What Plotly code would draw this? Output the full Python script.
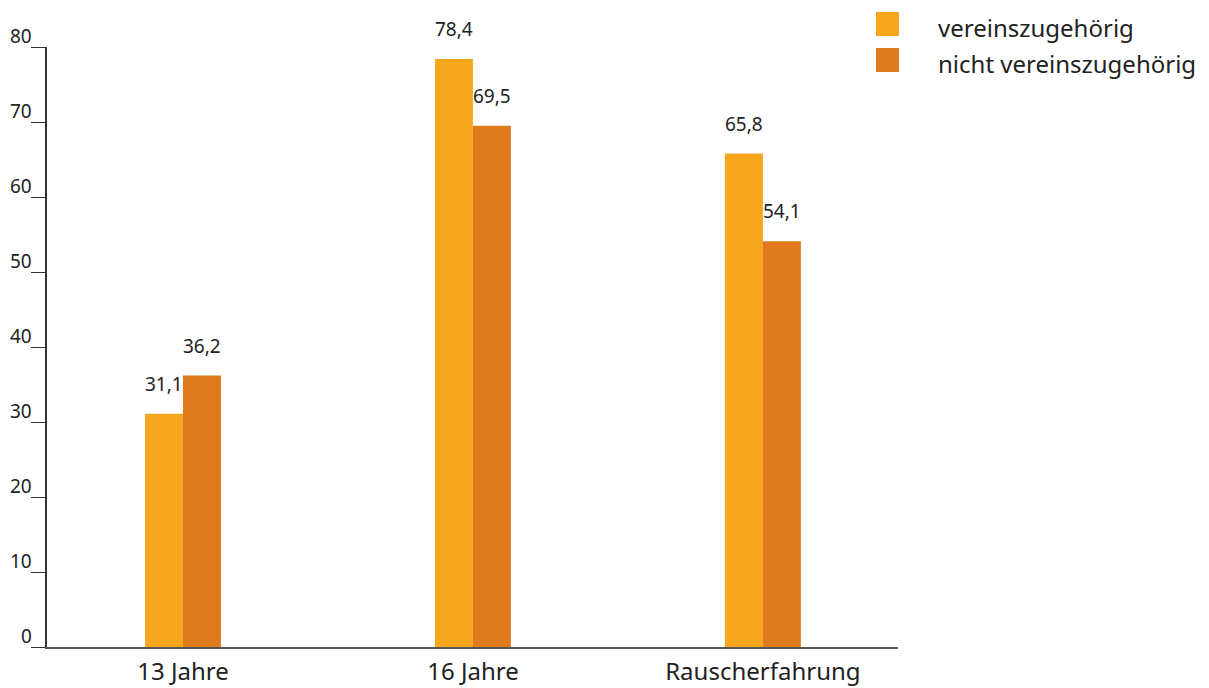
import plotly.graph_objects as go

# Anteile in Prozent
categories = ["13 Jahre", "16 Jahre", "Rauscherfahrung"]
vereins = [31.1, 78.4, 65.8]
nicht_vereins = [36.2, 69.5, 54.1]
series_names = ["vereinszugehörig", "nicht vereinszugehörig"]
y_ticks = [0, 10, 20, 30, 40, 50, 60, 70, 80]

colors = ["#F8A61E", "#E07A1F"]
font_family = "Noto Sans, DejaVu Sans, sans-serif"
text_color = "#222222"

# Plotfläche in Pixeln
PL, PR, PT, PB = 47, 898, 47, 647
W, H = 1209, 688


def fmt(v):
    return f"{v:.1f}".replace(".", ",")


def px_x(x):
    return (x - PL) / (PR - PL)


def px_y(y):
    return (PB - y) / (PB - PT)


fig = go.Figure()
for name, vals, col in zip(series_names, [vereins, nicht_vereins], colors):
    fig.add_trace(go.Bar(
        x=categories, y=vals, name=name,
        marker=dict(color=col, line=dict(width=0)),
        showlegend=False,
    ))

# Wertebeschriftungen über den Balken
annotations = []
for vals, shift in [(vereins, -19), (nicht_vereins, 19)]:
    for cat, v in zip(categories, vals):
        annotations.append(dict(
            x=cat, y=v, xref="x", yref="y", text=fmt(v), showarrow=False,
            xshift=shift, yshift=30, font=dict(size=19, color=text_color, family=font_family),
        ))

# Y-Achsenbeschriftung: Ziffern sitzen auf dem Teilstrich
for t in y_ticks:
    annotations.append(dict(
        x=0, y=t, xref="paper", yref="y", text=str(t), showarrow=False,
        xanchor="right", yanchor="bottom", xshift=-13, yshift=-4,
        font=dict(size=19, color=text_color, family=font_family),
    ))

# Legende als Farbfelder mit Beschriftung
shapes = []
for i, (name, col) in enumerate(zip(series_names, colors)):
    top_px = 12 + i * 36
    shapes.append(dict(
        type="rect", xref="paper", yref="paper",
        x0=px_x(876), x1=px_x(899),
        y0=px_y(top_px + 24), y1=px_y(top_px),
        fillcolor=col, line=dict(width=0),
    ))
    annotations.append(dict(
        x=px_x(936), y=px_y(top_px + 16), xref="paper", yref="paper",
        xanchor="left", yanchor="middle", text=name, showarrow=False,
        font=dict(size=24, color=text_color, family=font_family),
    ))

fig.update_layout(
    width=W, height=H,
    margin=dict(l=PL, r=W - PR, t=PT, b=H - PB, autoexpand=False),
    paper_bgcolor="white", plot_bgcolor="white",
    barmode="group", bargap=0.738, bargroupgap=0,
    font=dict(family=font_family, color=text_color),
    annotations=annotations,
    shapes=shapes,
    xaxis=dict(
        type="category", range=[-0.469, 2.466], automargin=False,
        showline=True, linecolor="#555555", linewidth=1.5,
        ticks="", showgrid=False, zeroline=False, ticklabelstandoff=2,
        tickfont=dict(size=24, color=text_color, family=font_family),
    ),
    yaxis=dict(
        range=[0, 80], tickvals=y_ticks, showticklabels=False,
        automargin=False,
        showline=True, linecolor="#333333", linewidth=1.5,
        ticks="outside", ticklen=14, tickwidth=1.2, tickcolor="#333333",
        showgrid=False, zeroline=False,
    ),
)

fig.write_html("out.html")
